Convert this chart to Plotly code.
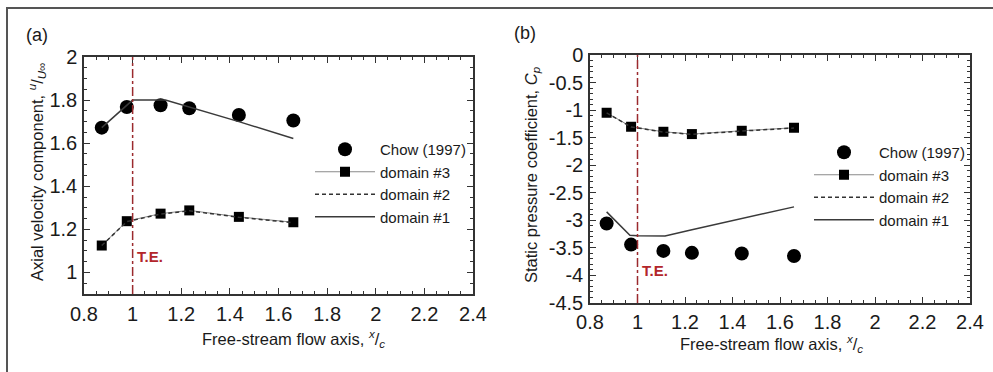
import plotly.graph_objects as go

W, H = 993, 372

# ---------------- data: panel (a) axial velocity ----------------
xa_chow = [0.873, 0.976, 1.115, 1.233, 1.437, 1.661]
ya_chow = [1.672, 1.768, 1.776, 1.762, 1.731, 1.705]

xa_d3 = [0.873, 0.976, 1.115, 1.233, 1.437, 1.661]
ya_d3 = [1.125, 1.238, 1.273, 1.288, 1.258, 1.233]

xa_d2 = [0.873, 0.976, 1.115, 1.233, 1.437, 1.661]
ya_d2 = [1.125, 1.236, 1.271, 1.286, 1.256, 1.231]

xa_d1 = [0.873, 0.976, 1.0, 1.135, 1.233, 1.437, 1.661]
ya_d1 = [1.672, 1.775, 1.800, 1.800, 1.768, 1.700, 1.622]

# ---------------- data: panel (b) static pressure ----------------
xb_chow = [0.870, 0.973, 1.109, 1.229, 1.439, 1.659]
yb_chow = [-3.058, -3.440, -3.555, -3.590, -3.603, -3.646]

xb_d3 = [0.870, 0.973, 1.109, 1.229, 1.439, 1.659]
yb_d3 = [-1.048, -1.302, -1.393, -1.435, -1.375, -1.320]

xb_d2 = [0.870, 0.973, 1.109, 1.229, 1.439, 1.659]
yb_d2 = [-1.050, -1.305, -1.398, -1.440, -1.380, -1.325]

xb_d1 = [0.870, 0.968, 1.0, 1.116, 1.229, 1.439, 1.659]
yb_d1 = [-2.847, -3.270, -3.280, -3.283, -3.170, -2.970, -2.756]

x_ticks = [0.8, 1.0, 1.2, 1.4, 1.6, 1.8, 2.0, 2.2, 2.4]
x_ticktext = ["0.8", "1", "1.2", "1.4", "1.6", "1.8", "2", "2.2", "2.4"]
ya_ticks = [1.0, 1.2, 1.4, 1.6, 1.8, 2.0]
ya_ticktext = ["1", "1.2", "1.4", "1.6", "1.8", "2"]
yb_ticks = [-4.5, -4, -3.5, -3, -2.5, -2, -1.5, -1, -0.5, 0]
yb_ticktext = ["-4.5", "-4", "-3.5", "-3", "-2.5", "-2", "-1.5", "-1", "-0.5", "0"]

trailing_edge_x = 1.0
series_names = ["Chow (1997)", "domain #3", "domain #2", "domain #1"]

FONT = "Liberation Sans, Arial, sans-serif"
INK = "#1a1a1a"
RED = "#b3262b"


def px_x(p):
    return p / W


def px_y(p):
    return 1 - p / H


fig = go.Figure()


def add_panel(xaxis, yaxis, legend, chow, d3, d2, d1):
    fig.add_trace(go.Scatter(x=chow[0], y=chow[1], mode="markers", name=series_names[0],
                             marker=dict(symbol="circle", size=14, color="black"),
                             xaxis=xaxis, yaxis=yaxis, legend=legend))
    fig.add_trace(go.Scatter(x=d3[0], y=d3[1], mode="lines+markers", name=series_names[1],
                             line=dict(color="#8a8a8a", width=1),
                             marker=dict(symbol="square", size=10, color="black"),
                             xaxis=xaxis, yaxis=yaxis, legend=legend))
    fig.add_trace(go.Scatter(x=d2[0], y=d2[1], mode="lines", name=series_names[2],
                             line=dict(color="#333333", width=1.5, dash="4px,3px"),
                             xaxis=xaxis, yaxis=yaxis, legend=legend))
    fig.add_trace(go.Scatter(x=d1[0], y=d1[1], mode="lines", name=series_names[3],
                             line=dict(color="#3a3a3a", width=1.5),
                             xaxis=xaxis, yaxis=yaxis, legend=legend))


add_panel("x", "y", "legend", (xa_chow, ya_chow), (xa_d3, ya_d3), (xa_d2, ya_d2), (xa_d1, ya_d1))
add_panel("x2", "y2", "legend2", (xb_chow, yb_chow), (xb_d3, yb_d3), (xb_d2, yb_d2), (xb_d1, yb_d1))

axis_common = dict(
    showline=True, linecolor="#333333", linewidth=1.5, mirror="ticks",
    ticks="inside", ticklen=6, tickwidth=1.2, tickcolor="#333333",
    showgrid=False, zeroline=False, automargin=False,
    tickfont=dict(family=FONT, size=20, color=INK),
)

fig.update_layout(
    template="none",
    width=W, height=H,
    margin=dict(l=0, r=0, t=0, b=0, pad=0, autoexpand=False),
    paper_bgcolor="white", plot_bgcolor="white",
    font=dict(family=FONT, color=INK),
    xaxis=dict(domain=[px_x(84), px_x(473)], range=[0.8, 2.4], anchor="y",
               tickvals=x_ticks, ticktext=x_ticktext, ticklabelstandoff=1,
               minor=dict(dtick=0.05, tick0=0.8, ticks="inside", ticklen=3, tickcolor="#333333"),
               **axis_common),
    yaxis=dict(domain=[px_y(294), px_y(57)], range=[0.9, 2.0], anchor="x",
               tickvals=ya_ticks, ticktext=ya_ticktext, ticklabelstandoff=1,
               minor=dict(dtick=0.05, tick0=0.9, ticks="inside", ticklen=3, tickcolor="#333333"),
               **axis_common),
    xaxis2=dict(domain=[px_x(590), px_x(970)], range=[0.8, 2.4], anchor="y2",
                tickvals=x_ticks, ticktext=x_ticktext, ticklabelstandoff=0,
                minor=dict(dtick=0.05, tick0=0.8, ticks="inside", ticklen=3, tickcolor="#333333"),
                **axis_common),
    yaxis2=dict(domain=[px_y(303), px_y(55)], range=[-4.5, 0], anchor="x2",
                tickvals=yb_ticks, ticktext=yb_ticktext, ticklabelstandoff=1,
                minor=dict(dtick=0.1, tick0=0, ticks="inside", ticklen=3, tickcolor="#333333"),
                **axis_common),
    legend=dict(x=px_x(310), y=px_y(133), xanchor="left", yanchor="top",
                bgcolor="rgba(0,0,0,0)", font=dict(family=FONT, size=15, color=INK),
                itemwidth=60, tracegroupgap=0),
    legend2=dict(x=px_x(809), y=px_y(136), xanchor="left", yanchor="top",
                 bgcolor="rgba(0,0,0,0)", font=dict(family=FONT, size=15, color=INK),
                 itemwidth=60, tracegroupgap=0),
    showlegend=True,
)

# trailing-edge reference lines
for xr, yr in (("x", "y domain"), ("x2", "y2 domain")):
    fig.add_shape(type="line", xref=xr, yref=yr, x0=trailing_edge_x, x1=trailing_edge_x, y0=0, y1=1,
                  line=dict(color="#9b2a2e", width=1.5, dash="dashdot"))

fig.add_annotation(x=trailing_edge_x, y=1.075, xref="x", yref="y", text="<b>T.E.</b>",
                   showarrow=False, xanchor="left", yanchor="middle", xshift=2,
                   font=dict(family=FONT, size=15, color=RED))
fig.add_annotation(x=trailing_edge_x, y=-3.906, xref="x2", yref="y2", text="<b>T.E.</b>",
                   showarrow=False, xanchor="left", yanchor="middle", xshift=2,
                   font=dict(family=FONT, size=15, color=RED))

# panel labels
fig.add_annotation(x=px_x(37), y=px_y(35), xref="paper", yref="paper", text="(a)",
                   showarrow=False, xanchor="center", yanchor="middle",
                   font=dict(family=FONT, size=18, color=INK))
fig.add_annotation(x=px_x(525), y=px_y(33), xref="paper", yref="paper", text="(b)",
                   showarrow=False, xanchor="center", yanchor="middle",
                   font=dict(family=FONT, size=18, color=INK))

# axis titles
fig.add_annotation(x=px_x(293), y=px_y(339), xref="paper", yref="paper",
                   text="Free-stream flow axis, <sup><i>x</i></sup>/<sub><i>c</i></sub>",
                   showarrow=False, xanchor="center", yanchor="middle",
                   font=dict(family=FONT, size=16.5, color=INK))
fig.add_annotation(x=px_x(771), y=px_y(344), xref="paper", yref="paper",
                   text="Free-stream flow axis, <sup><i>x</i></sup>/<sub><i>c</i></sub>",
                   showarrow=False, xanchor="center", yanchor="middle",
                   font=dict(family=FONT, size=16.5, color=INK))
fig.add_annotation(x=px_x(37), y=px_y(172), xref="paper", yref="paper", textangle=-90,
                   text="Axial velocity component, <sup><i>u</i></sup>/<sub><i>U</i>\u221e</sub>",
                   showarrow=False, xanchor="center", yanchor="middle",
                   font=dict(family=FONT, size=16.5, color=INK))
fig.add_annotation(x=px_x(532), y=px_y(175), xref="paper", yref="paper", textangle=-90,
                   text="Static pressure coefficient, <i>C<sub>p</sub></i>",
                   showarrow=False, xanchor="center", yanchor="middle",
                   font=dict(family=FONT, size=16.5, color=INK))

# outer frame of the figure
fig.add_shape(type="rect", xref="paper", yref="paper",
              x0=px_x(7), x1=1.02, y0=-0.05, y1=px_y(8),
              line=dict(color="#555555", width=2), fillcolor="rgba(0,0,0,0)")

fig.write_html("out.html")
